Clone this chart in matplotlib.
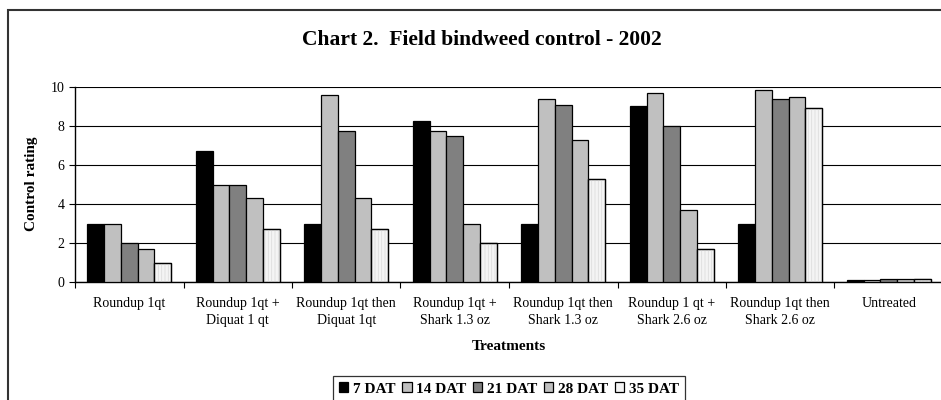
import matplotlib.pyplot as plt
import numpy as np
from matplotlib.patches import Rectangle

plt.rcParams['font.family'] = ['Liberation Serif', 'DejaVu Serif']
plt.rcParams['hatch.linewidth'] = 0.6

treatments = ['Roundup 1qt', 'Roundup 1qt +\nDiquat 1 qt', 'Roundup 1qt then\nDiquat 1qt',
              'Roundup 1qt +\nShark 1.3 oz', 'Roundup 1qt then\nShark 1.3 oz', 'Roundup 1 qt +\nShark 2.6 oz',
              'Roundup 1qt then\nShark 2.6 oz', 'Untreated']
series = ['7 DAT', '14 DAT', '21 DAT', '28 DAT', '35 DAT']
dat7 = [3.0, 6.7, 3.0, 8.25, 3.0, 9.05, 3.0, 0.1]
dat14 = [3.0, 4.95, 9.6, 7.75, 9.4, 9.7, 9.85, 0.1]
dat21 = [2.0, 5.0, 7.75, 7.5, 9.1, 8.0, 9.4, 0.15]
dat28 = [1.7, 4.3, 4.3, 3.0, 7.3, 3.7, 9.5, 0.15]
dat35 = [1.0, 2.7, 2.7, 2.0, 5.3, 1.7, 8.9, 0.15]
colors = ['#000000', '#c0c0c0', '#808080', '#c0c0c0', '#f4f4f4']

fig = plt.figure(figsize=(9.41, 4.0), dpi=100)
ax = fig.add_axes([75 / 941, 1 - 282 / 400, 868 / 941, 195 / 400])

x = np.arange(len(treatments))
w = 0.155
for i, (vals, name) in enumerate(zip([dat7, dat14, dat21, dat28, dat35], series)):
    ax.bar(x + (i - 2) * w, vals, w, color=colors[i], edgecolor='black', linewidth=0.9,
           label=name, zorder=3)
# faint vertical stripes on the 35 DAT bars
ax.bar(x + 2 * w, dat35, w, facecolor='none', edgecolor='#dddddd', linewidth=0,
       hatch='|||||', zorder=3.5)
ax.bar(x + 2 * w, dat35, w, facecolor='none', edgecolor='black', linewidth=0.9, zorder=4)

ax.set_xlim(-0.5, len(treatments) - 0.5)
ax.set_ylim(0, 10)
ax.set_yticks(np.arange(0, 11, 2))
ax.yaxis.grid(True, color='black', linewidth=0.8, zorder=0)
ax.set_xticks(x)
ax.set_xticklabels(treatments, fontsize=10, linespacing=1.35)
ax.set_xticks(np.arange(-0.5, len(treatments), 1), minor=True)
ax.tick_params(axis='x', which='major', length=0, pad=11)
ax.tick_params(axis='x', which='minor', length=4, direction='out', width=0.8)
ax.tick_params(axis='y', length=4, direction='out', labelsize=10, width=0.8)
for s in ['top', 'right']:
    ax.spines[s].set_visible(False)
for s in ['left', 'bottom']:
    ax.spines[s].set_linewidth(1.0)

fig.text(32 / 941, 1 - 184 / 400, 'Control rating', rotation=90, ha='center', va='center',
         fontsize=11, fontweight='bold')
fig.text(509 / 941, 1 - 347 / 400, 'Treatments', ha='center', va='center',
         fontsize=11, fontweight='bold')
fig.text(482 / 941, 1 - 40 / 400, 'Chart 2.  Field bindweed control - 2002',
         ha='center', va='center', fontsize=15.5, fontweight='bold')

leg = fig.legend(loc='center', bbox_to_anchor=(509 / 941, 1 - 389 / 400), ncol=5,
                 frameon=True, fancybox=False, edgecolor='black', handlelength=0.6,
                 handleheight=0.6, handletextpad=0.3, columnspacing=0.45,
                 borderpad=0.4, prop={'weight': 'bold', 'size': 11})
leg.get_frame().set_linewidth(0.9)

fig.patches.append(Rectangle((8 / 941, -0.1), 1.2, 1 - 10 / 400 + 0.1, transform=fig.transFigure,
                             fill=False, edgecolor='#333333', linewidth=1.5))

fig.savefig('out.png', dpi=100)
